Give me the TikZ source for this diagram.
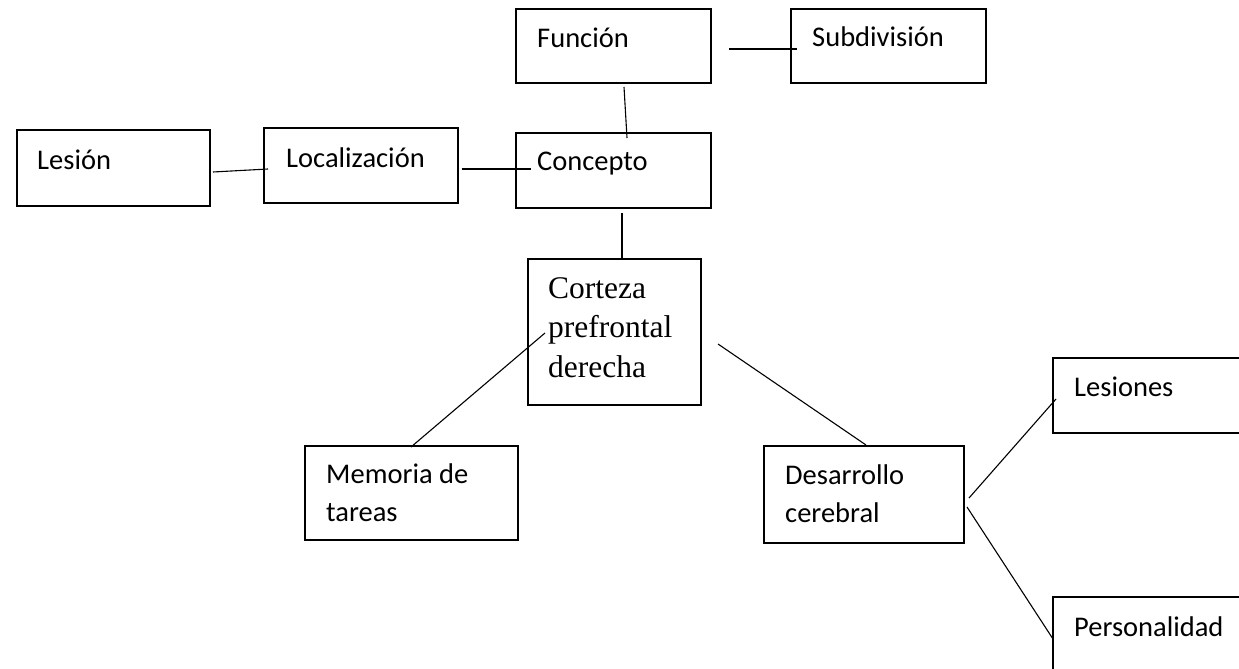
\documentclass[tikz,border=0pt]{standalone}
\usepackage{fontspec}
\setmainfont{Carlito}
\newfontfamily\timesf{Liberation Serif}
\usetikzlibrary{calc}
\newcommand{\mylines}[1]{\begin{tabular}[t]{@{}l@{}}#1\end{tabular}}
\begin{document}
\begin{tikzpicture}[x=1pt,y=-1pt,
 box/.style={draw, line width=1.3pt, rectangle, anchor=north west, inner sep=0pt, outer sep=0pt},
 txt/.style={anchor=base west, inner sep=0pt, font=\fontsize{28.5}{38}\selectfont},
 ser/.style={anchor=base west, inner sep=0pt, font=\timesf\fontsize{31.5}{39.5}\selectfont},
 conn/.style={line width=1.1pt}]
\useasboundingbox (0,0) rectangle (1239,669);
\clip (0,0) rectangle (1239,669);
% boxes
\node[box, minimum width=193pt, minimum height=76pt] (lesion) at (17,130) {};
\node[box, minimum width=194pt, minimum height=75pt] (loc) at (264,128) {};
\node[box, minimum width=195pt, minimum height=75pt] (concepto) at (516,133) {};
\node[box, minimum width=195pt, minimum height=74pt] (funcion) at (516,9) {};
\node[box, minimum width=195pt, minimum height=74pt] (subdiv) at (791,9) {};
\node[box, minimum width=173pt, minimum height=146pt] (corteza) at (528,259) {};
\node[box, minimum width=213pt, minimum height=94pt] (memoria) at (305,446) {};
\node[box, minimum width=200pt, minimum height=97pt] (desarrollo) at (764,446) {};
\node[box, minimum width=200pt, minimum height=75pt] (lesiones) at (1053,358) {};
\node[box, minimum width=200pt, minimum height=75pt] (personalidad) at (1053,597) {};
% texts
\node[txt] (lesionT) at (37,169) {Lesión};
\node[txt] (locT) at (286,167) {Localización};
\node[txt] (conceptoT) at (537,170) {Concepto};
\node[txt] (funcionT) at (537,48) {Función};
\node[txt] (subdivT) at (812,47) {Subdivisión};
\node[ser] (cortezaT) at (548,298) {\mylines{Corteza\\prefrontal\\derecha}};
\node[txt] (memoriaT) at (326,483) {\mylines{Memoria de\\tareas}};
\node[txt] (desarrolloT) at (785,484) {\mylines{Desarrollo\\cerebral}};
\node[txt] (lesionesT) at (1074,396) {Lesiones};
\node[txt] (personalidadT) at (1074,636) {Personalidad};
% connectors
\draw[conn] ($(lesion.east)+(3,4)$) -- ($(loc.west)+(4,3.5)$);
\draw[conn] ($(loc.east)+(3.5,3.5)$) -- ($(concepto.west)+(15,-1.5)$);
\draw[conn] ($(funcion.east)+(18,3)$) -- ($(subdiv.west)+(6,3)$);
\draw[conn] ($(funcion.south)+(10.5,4)$) -- ($(concepto.north)+(13.5,5)$);
\draw[conn] ($(concepto.south)+(8.5,5)$) -- ($(corteza.north)+(7.5,0)$);
\draw[conn] ($(corteza.west)+(17,1)$) -- ($(memoria.north)+(-0.5,1)$);
\draw[conn] ($(corteza.east)+(17,12)$) -- ($(desarrollo.north)+(2,-1)$);
\draw[conn] ($(desarrollo.east)+(5,3.5)$) -- ($(lesiones.west)+(3,3.5)$);
\draw[conn] ($(desarrollo.east)+(3,12.5)$) -- ($(personalidad.west)+(0,4.5)$);
\end{tikzpicture}
\end{document}
